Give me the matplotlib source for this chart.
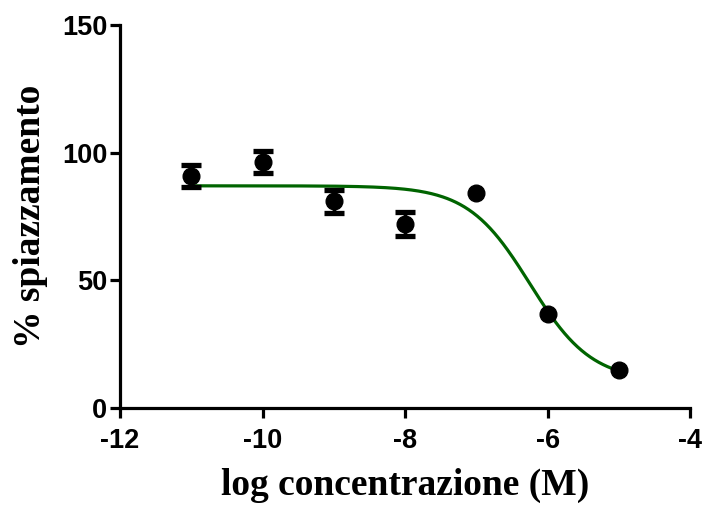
import numpy as np
import matplotlib
matplotlib.use("Agg")
import matplotlib.pyplot as plt

# data
log_conc = [-11, -10, -9, -8, -7, -6, -5]
displacement = [91.0, 96.5, 81.0, 72.0, 84.0, 37.0, 15.0]
# error bars smaller than the marker are not drawn (0 = hidden)
sem = [4.3, 4.3, 4.5, 4.7, 0, 0, 0]

# one-site competition fit parameters (estimated from the drawn curve)
fit_top = 87.0
fit_bottom = 10.5
fit_logic50 = -6.25
fit_hill = 1.0

x_ticks = [-12, -10, -8, -6, -4]
y_ticks = [0, 50, 100, 150]

tick_font = {"family": "Liberation Sans", "weight": "bold", "size": 19.5}
label_font = {"family": "Liberation Serif", "weight": "bold", "size": 27}


def sigmoid(x):
    return fit_bottom + (fit_top - fit_bottom) / (1 + 10 ** ((x - fit_logic50) * fit_hill))


fig = plt.figure(figsize=(7.1, 5.07), dpi=100)
ax = fig.add_axes([0.169, 0.195, 0.803, 0.756])

xs = np.linspace(min(log_conc), max(log_conc), 300)
ax.plot(xs, sigmoid(xs), color="#006400", lw=2.3, zorder=2)

# error bars only where they stick out of the marker
bar_x = [x for x, e in zip(log_conc, sem) if e > 0]
bar_y = [y for y, e in zip(displacement, sem) if e > 0]
bar_e = [e for e in sem if e > 0]
ax.errorbar(bar_x, bar_y, yerr=bar_e, fmt="none", ecolor="black",
            elinewidth=2.5, capsize=7, capthick=3.8, zorder=3)
ax.plot(log_conc, displacement, "o", color="black", markersize=12, zorder=4)

ax.set_xlim(-12, -4)
ax.set_ylim(0, 150)
ax.set_xticks(x_ticks)
ax.set_yticks(y_ticks)
ax.set_xticklabels([str(t) for t in x_ticks], fontdict=tick_font)
ax.set_yticklabels([str(t) for t in y_ticks], fontdict=tick_font)

for side in ["top", "right"]:
    ax.spines[side].set_visible(False)
for side in ["left", "bottom"]:
    ax.spines[side].set_linewidth(2.3)
ax.tick_params(direction="out", length=7, width=2.3, pad=2)
ax.tick_params(axis="x", pad=7.5)

ax.set_xlabel("log concentrazione (M)", fontdict=label_font, labelpad=10)
ax.set_ylabel("% spiazzamento", fontdict=label_font, labelpad=10)

fig.savefig("out.png", dpi=100)
